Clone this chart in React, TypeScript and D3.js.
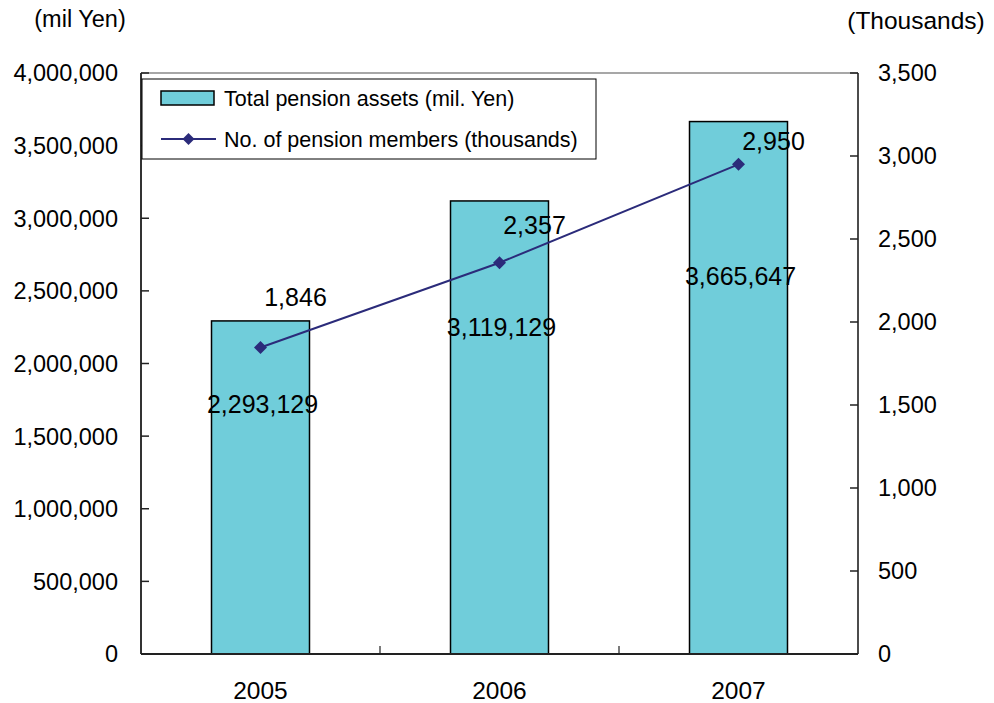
import React from "react";
import * as d3 from "d3";

const years = ["2005", "2006", "2007"];
const assets = [2293129, 3119129, 3665647];
const members = [1846, 2357, 2950];
const leftTicks = [0, 500000, 1000000, 1500000, 2000000, 2500000, 3000000, 3500000, 4000000];
const rightTicks = [0, 500, 1000, 1500, 2000, 2500, 3000, 3500];
const seriesNames = ["Total pension assets (mil. Yen)", "No. of pension members (thousands)"];
const axisTitles = ["(mil Yen)", "(Thousands)"];

const W = 994;
const H = 703;
const L = 141;
const R = 858;
const T = 73;
const B = 654;
const FONT = "'Liberation Sans', Arial, sans-serif";
const BAR = "#70CDDA";
const LINE = "#2B2B7A";

export default function App() {
  const x = d3.scaleBand<string>().domain(years).range([L, R]).padding(0);
  const yL = d3.scaleLinear().domain([0, 4000000]).range([B, T]);
  const yR = d3.scaleLinear().domain([0, 3500]).range([B, T]);
  const fmt = d3.format(",");
  const bw = x.bandwidth() * 0.41;
  const cx = (d: string) => (x(d) as number) + x.bandwidth() / 2;
  const line = d3
    .line<number>()
    .x((_, i) => cx(years[i]))
    .y((v) => yR(v));
  const diamond = (px: number, py: number, r: number) =>
    `M${px},${py - r}L${px + r},${py}L${px},${py + r}L${px - r},${py}Z`;

  return (
    <svg
      width={W}
      height={H}
      style={{ position: "absolute", left: 0, top: 0, background: "#fff" }}
      fontFamily={FONT}
    >
      <rect x={0} y={0} width={W} height={H} fill="#fff" />
      {/* plot border top */}
      <line x1={L} x2={R} y1={T} y2={T} stroke="#8a8a8a" strokeWidth={1.5} />
      {/* bars */}
      {years.map((yr, i) => (
        <rect
          key={yr}
          x={cx(yr) - bw / 2}
          y={yL(assets[i])}
          width={bw}
          height={B - yL(assets[i])}
          fill={BAR}
          stroke="#000"
          strokeWidth={1.5}
        />
      ))}
      {/* axes */}
      <line x1={L} x2={L} y1={T} y2={B} stroke="#333" strokeWidth={2} />
      <line x1={R} x2={R} y1={T} y2={B} stroke="#111" strokeWidth={1.5} />
      <line x1={L} x2={R} y1={B} y2={B} stroke="#222" strokeWidth={2} />
      {leftTicks.map((t) => (
        <g key={"l" + t}>
          <line x1={L} x2={L + 8} y1={yL(t)} y2={yL(t)} stroke="#222" strokeWidth={1.5} />
          <text x={118} y={yL(t)} dy="0.36em" textAnchor="end" fontSize={23.5} fill="#000">
            {fmt(t)}
          </text>
        </g>
      ))}
      {rightTicks.map((t) => (
        <g key={"r" + t}>
          <line x1={R - 8} x2={R} y1={yR(t)} y2={yR(t)} stroke="#222" strokeWidth={1.5} />
          <text x={878} y={yR(t)} dy="0.36em" textAnchor="start" fontSize={23.5} fill="#000">
            {fmt(t)}
          </text>
        </g>
      ))}
      {years.slice(1).map((yr) => (
        <line
          key={"xt" + yr}
          x1={x(yr) as number}
          x2={x(yr) as number}
          y1={B}
          y2={B - 8}
          stroke="#222"
          strokeWidth={1.2}
        />
      ))}
      {years.map((yr) => (
        <text key={"xl" + yr} x={cx(yr)} y={699} textAnchor="middle" fontSize={24.5} fill="#000">
          {yr}
        </text>
      ))}
      <text x={80} y={27} textAnchor="middle" fontSize={23.5} fill="#000">
        {axisTitles[0]}
      </text>
      <text x={916} y={29} textAnchor="middle" fontSize={24.5} fill="#000">
        {axisTitles[1]}
      </text>
      {/* line series */}
      <path d={line(members) || ""} fill="none" stroke={LINE} strokeWidth={2} />
      {members.map((v, i) => (
        <path key={"m" + i} d={diamond(cx(years[i]), yR(v), 6.5)} fill={LINE} />
      ))}
      {/* bar labels */}
      {assets.map((v, i) => (
        <text
          key={"al" + i}
          x={cx(years[i]) + 2}
          y={yL(v * 0.647) - 25}
          textAnchor="middle"
          fontSize={25}
          fill="#000"
        >
          {fmt(v)}
        </text>
      ))}
      {/* line labels */}
      {members.map((v, i) => (
        <text
          key={"ml" + i}
          x={cx(years[i]) + 35}
          y={yR(v * 0.851) - 87}
          textAnchor="middle"
          fontSize={25}
          fill="#000"
        >
          {fmt(v)}
        </text>
      ))}
      {/* legend */}
      <rect x={142} y={79} width={454} height={80} fill="#fff" stroke="#000" strokeWidth={1} />
      <rect x={161} y={91} width={53} height={14} fill={BAR} stroke="#000" strokeWidth={1.5} />
      <text x={224} y={98} dy="0.36em" fontSize={21.5} fill="#000">
        {seriesNames[0]}
      </text>
      <line x1={161} x2={216} y1={139} y2={139} stroke={LINE} strokeWidth={2} />
      <path d={diamond(188.5, 139, 6)} fill={LINE} />
      <text x={224} y={139} dy="0.36em" fontSize={21.5} fill="#000">
        {seriesNames[1]}
      </text>
    </svg>
  );
}
